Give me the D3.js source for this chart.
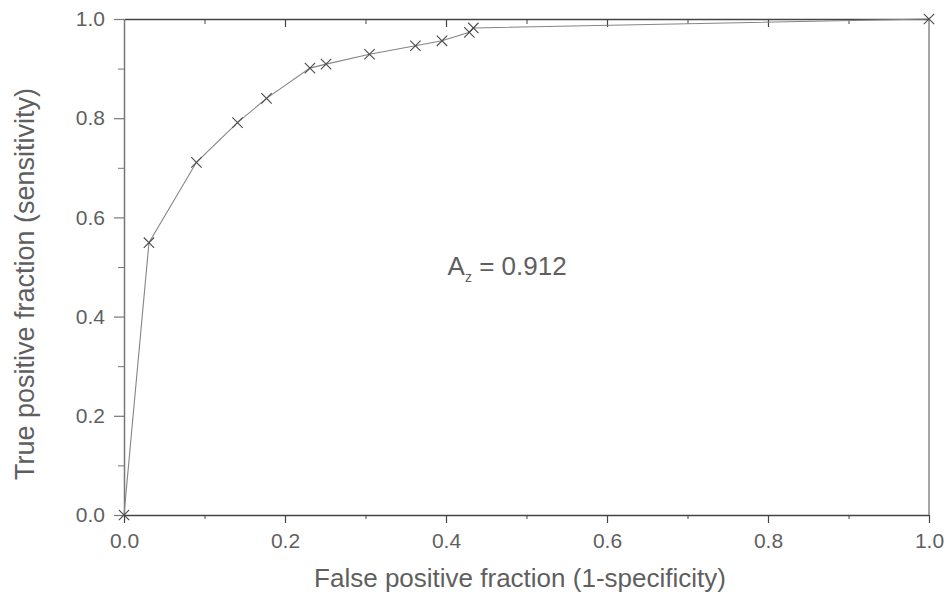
<!DOCTYPE html>
<html>
<head>
<meta charset="utf-8">
<script src="https://cdn.jsdelivr.net/npm/d3@7"></script>
<style>
  body { margin: 0; background: #fff; }
  svg text { font-family: "Liberation Sans", Arial, sans-serif; fill: #5f5f5f; }
</style>
</head>
<body>
<div id="chart"></div>
<script>
"use strict";
// ROC curve points
var fpf = [0, 0.031, 0.090, 0.141, 0.177, 0.231, 0.251, 0.305, 0.362, 0.395, 0.429, 0.434, 1.0];
var tpf = [0, 0.549, 0.711, 0.791, 0.840, 0.901, 0.909, 0.929, 0.946, 0.956, 0.973, 0.982, 1.0];
var majorTicks = [0, 0.2, 0.4, 0.6, 0.8, 1.0];
var minorTicks = [0.1, 0.3, 0.5, 0.7, 0.9];
var xTitle = "False positive fraction (1-specificity)";
var yTitle = "True positive fraction (sensitivity)";
var azValue = "0.912";

var w = 950, h = 607;
var margin = { left: 124, right: 21, top: 19, bottom: 92 };
var iw = w - margin.left - margin.right,
  ih = h - margin.top - margin.bottom;

var svg = d3.select("#chart").append("svg")
  .attr("width", w)
  .attr("height", h);

var g = svg.append("g").attr("transform", "translate(" + margin.left + "," + margin.top + ")");

var x = d3.scaleLinear().domain([0, 1]).range([0, iw]);
var y = d3.scaleLinear().domain([0, 1]).range([ih, 0]);

var fmt = d3.format(".1f");

function styleAxis(sel, color) {
  sel.select(".domain").attr("stroke", color).attr("stroke-width", 1.5);
  sel.selectAll(".tick line").attr("stroke", color).attr("stroke-width", 1.2);
  sel.selectAll(".tick text").attr("fill", "#5f5f5f").style("font-size", "21px");
}

//bottom axis, major + minor
var xb = g.append("g").attr("transform", "translate(0," + ih + ")")
  .call(d3.axisBottom(x).tickValues(majorTicks).tickFormat(fmt).tickSize(8).tickPadding(10).tickSizeOuter(0));
styleAxis(xb, "#444");
g.append("g").attr("transform", "translate(0," + ih + ")")
  .call(d3.axisBottom(x).tickValues(minorTicks).tickFormat("").tickSize(4).tickSizeOuter(0))
  .call(function(s) { s.select(".domain").remove(); s.selectAll("line").attr("stroke", "#444"); });

//top axis mirrors bottom, ticks hang into the plot
var xt = g.append("g")
  .call(d3.axisBottom(x).tickValues(majorTicks.slice(1, -1)).tickFormat("").tickSize(8).tickSizeOuter(0));
styleAxis(xt, "#444");
g.append("g")
  .call(d3.axisBottom(x).tickValues(minorTicks).tickFormat("").tickSize(5).tickSizeOuter(0))
  .call(function(s) { s.select(".domain").remove(); s.selectAll("line").attr("stroke", "#444"); });

//left axis
var yl = g.append("g")
  .call(d3.axisLeft(y).tickValues(majorTicks).tickFormat(fmt).tickSize(10).tickPadding(9).tickSizeOuter(0));
styleAxis(yl, "#777");
g.append("g")
  .call(d3.axisLeft(y).tickValues(minorTicks).tickFormat("").tickSize(6).tickSizeOuter(0))
  .call(function(s) { s.select(".domain").remove(); s.selectAll("line").attr("stroke", "#777"); });

//right axis, no ticks
g.append("line")
  .attr("x1", x(1)).attr("x2", x(1))
  .attr("y1", y(0)).attr("y2", y(1))
  .attr("stroke", "#888").attr("stroke-width", 1.5);

//curve
var pts = fpf.map(function(d, i) { return [d, tpf[i]]; });
var line = d3.line()
  .x(function(d) { return x(d[0]); })
  .y(function(d) { return y(d[1]); });

g.append("path")
  .datum(pts)
  .attr("d", line)
  .attr("fill", "none")
  .attr("stroke", "#858585")
  .attr("stroke-width", 1.1);

//x markers
var cross = d3.symbol().type(d3.symbolTimes).size(72);
g.append("g").selectAll("path")
  .data(pts)
  .enter().append("path")
  .attr("d", cross)
  .attr("transform", function(d) { return "translate(" + x(d[0]) + "," + y(d[1]) + ")"; })
  .attr("fill", "none")
  .attr("stroke", "#4a4a4a")
  .attr("stroke-width", 1.1);

//area under curve label
var az = g.append("text")
  .attr("x", x(0.402))
  .attr("y", y(0.483))
  .style("font-size", "26px");
az.append("tspan").text("A");
az.append("tspan").attr("dy", 7).style("font-size", "14px").text("z");
az.append("tspan").attr("dy", -7).text(" = " + azValue);

//axis titles
svg.append("text")
  .attr("x", 520)
  .attr("y", 587)
  .attr("text-anchor", "middle")
  .style("font-size", "26px")
  .text(xTitle);

svg.append("text")
  .attr("transform", "translate(34," + (margin.top + ih / 2 + 17) + ") rotate(-90)")
  .attr("text-anchor", "middle")
  .style("font-size", "27px")
  .text(yTitle);
</script>
</body>
</html>
